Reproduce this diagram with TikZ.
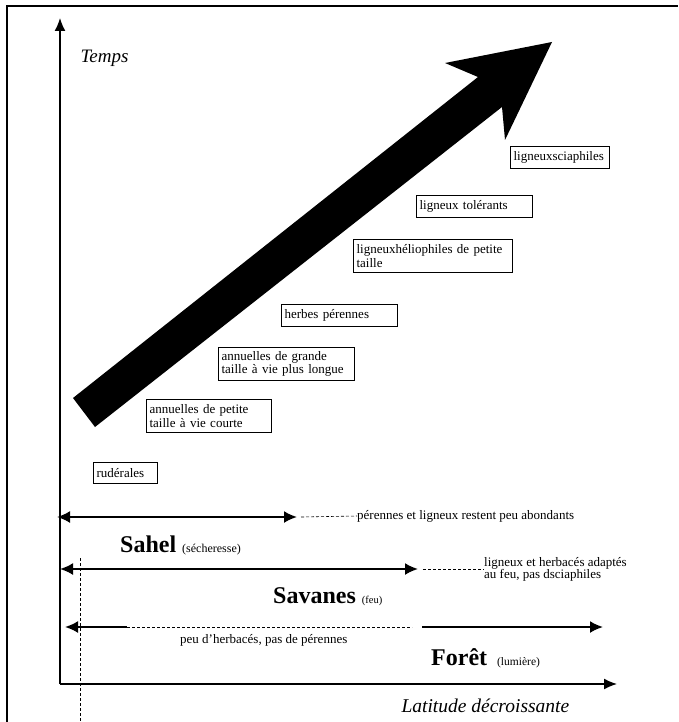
\documentclass[tikz,border=0pt]{standalone}
\usepackage{fontspec}
\setmainfont{Liberation Serif}
\usetikzlibrary{arrows.meta}
\begin{document}
\begin{tikzpicture}[x=1pt, y=-1pt, >={Latex[length=13pt,width=11pt]},
    boite/.style={draw, line width=1.2pt, anchor=north west, align=left, inner xsep=3pt, inner ysep=0pt, font=\fontsize{13}{13.5}\selectfont},
    note/.style={align=left, inner sep=0pt, font=\fontsize{13}{13}\selectfont},
    fleche/.style={line width=2pt, >={Latex[length=13pt,width=12pt]}},
    axe/.style={line width=1.5pt, ->},
    pointille/.style={densely dashed, line width=.6pt}]
\useasboundingbox (0,0) rectangle (678,722);
\draw[line width=1.5pt] (7,722)--(7,6)--(678,6);
\coordinate (O) at (60,684);
\draw[axe] (O)--(60,18);
\draw[axe] (O)--(617,684);
\node[anchor=base west, font=\fontsize{19}{19}\selectfont\itshape] (temps) at (77,63) {Temps};
\node[anchor=base west, font=\fontsize{19.5}{19.5}\selectfont\itshape] (latitude) at (398,712) {Latitude décroissante};
\draw[pointille, thin] (80,558)--(80,722);

\fill (95,427)--(502,107)--(505,140)--(552,42)--(445,63)--(478,77)--(73,398)--cycle;

\node[boite, text width=58pt, minimum height=21pt] (ruderales) at (93,462) {rudérales};
\node[boite, text width=119pt, minimum height=33pt] (annpetite) at (146,399) {annuelles de petite\\taille à vie courte};
\node[boite, text width=130pt, minimum height=33pt] (anngrande) at (218,347) {annuelles de grande\\taille à vie plus longue};
\node[boite, text width=110pt, minimum height=22pt] (herbes) at (281,304) {herbes pérennes};
\node[boite, text width=153pt, minimum height=33pt] (helio) at (353,239) {ligneuxhéliophiles de petite\\taille};
\node[boite, text width=110pt, minimum height=22pt] (tolerants) at (416,195) {ligneux tolérants};
\node[boite, text width=93pt, minimum height=22pt] (sciaphiles) at (510,146) {ligneuxsciaphiles};

\coordinate (sahelG) at (57,517);
\coordinate (sahelD) at (297,517);
\draw[fleche, <->] (sahelG)--(sahelD);
\node[note, anchor=west] (sahelnote) at (357,516) {pérennes et ligneux restent peu abondants};
\draw[pointille] ([xshift=4pt]sahelD)--(sahelnote.west);
\node[anchor=base west, inner sep=0pt] (sahel) at (120,552) {\fontsize{24}{24}\selectfont\bfseries Sahel \fontsize{12}{12}\selectfont\mdseries(sécheresse)};

\coordinate (savG) at (60,569);
\coordinate (savD) at (418,569);
\draw[fleche, <->] (savG)--(savD);
\node[note, anchor=west, font=\fontsize{13}{12}\selectfont] (savnote) at (484,569) {ligneux et herbacés adaptés\\au feu, pas dsciaphiles};
\draw[pointille] ([xshift=5pt]savD)--(savnote.west);
\node[anchor=base west, inner sep=0pt] (savanes) at (273,603) {\fontsize{24}{24}\selectfont\bfseries Savanes \fontsize{10.5}{10.5}\selectfont\mdseries(feu)};

\coordinate (foretG) at (65,627);
\coordinate (foretA) at (127,627);
\coordinate (foretB) at (422,627);
\coordinate (foretD) at (603,627);
\draw[fleche, <-] (foretG)--(foretA);
\draw[pointille] (foretA)--([xshift=-10pt]foretB);
\draw[fleche, ->] (foretB)--(foretD);
\node[note, anchor=base west] (foretnote) at (180,643) {peu d’herbacés, pas de pérennes};
\node[anchor=base west, inner sep=0pt] (foret) at (431,665) {\fontsize{24}{24}\selectfont\bfseries Forêt\hspace{10pt}\fontsize{11.5}{11.5}\selectfont\mdseries(lumière)};

\end{tikzpicture}
\end{document}
